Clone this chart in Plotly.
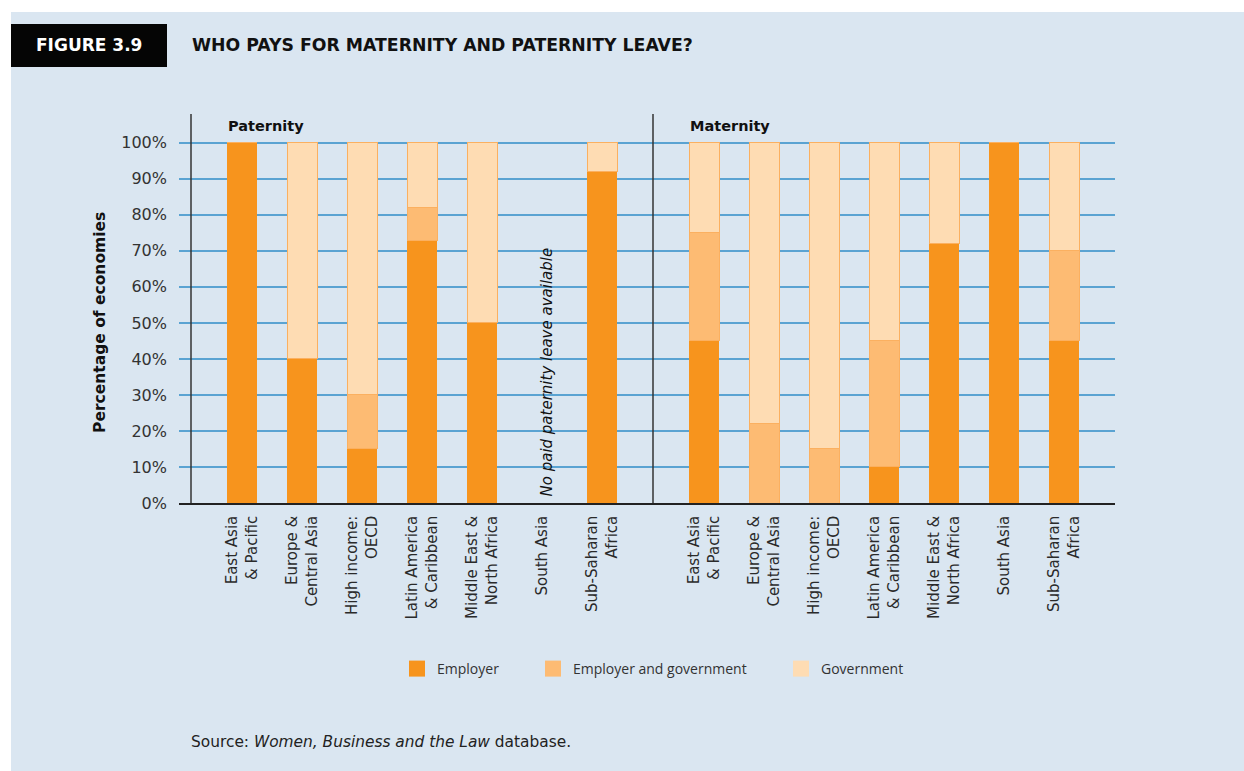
import plotly.graph_objects as go

# ---------------- data ----------------
regions = ["East Asia<br>& Pacific", "Europe &<br>Central Asia", "High income:<br>OECD",
           "Latin America<br>& Caribbean", "Middle East &<br>North Africa", "South Asia",
           "Sub-Saharan<br>Africa"]

pat_employer = [100, 40, 15, 73, 50, 0, 92]
pat_emp_gov = [0, 0, 15, 9, 0, 0, 0]
pat_government = [0, 60, 70, 18, 50, 0, 8]

mat_employer = [45, 0, 0, 10, 72, 100, 45]
mat_emp_gov = [30, 22, 15, 35, 0, 0, 25]
mat_government = [25, 78, 85, 55, 28, 0, 30]

series_names = ["Employer", "Employer and government", "Government"]
series_colors = ["#F7941D", "#FDBB73", "#FEDCB3"]
y_ticks = [0, 10, 20, 30, 40, 50, 60, 70, 80, 90, 100]

# ---------------- layout helpers ----------------
W, H = 1244, 771
ML, MR, MT, MB = 179, 129, 114, 268
PW, PH = W - ML - MR, H - MT - MB
GAP = 0.7  # extra gap between the two panels (in category units)

pat_x = [i for i in range(len(regions))]
mat_x = [i + len(regions) + GAP for i in range(len(regions))]
all_x = pat_x + mat_x
X_RANGE = [-1.05, 14.55]
Y_RANGE = [0, 108]


def px_x(p):  # page pixel -> paper fraction
    return (p - ML) / PW


def px_y(p):
    return (H - MB - p) / PH


def cx(p):  # page pixel -> container fraction
    return p / W


def cy(p):
    return 1 - p / H


fig = go.Figure()

segments = [
    (pat_employer + mat_employer, 0),
    (pat_emp_gov + mat_emp_gov, 1),
    (pat_government + mat_government, 2),
]
for vals, k in segments:
    line_w = 0 if k == 0 else 1
    fig.add_trace(go.Bar(
        x=all_x, y=vals, width=0.5, name=series_names[k],
        marker=dict(color=series_colors[k], line=dict(color="#FBB060", width=line_w)),
        showlegend=False, hoverinfo="skip",
    ))

# legend entries (one legend per item for exact placement)
legend_keys = ["legend", "legend2", "legend3"]
for k in range(3):
    fig.add_trace(go.Scatter(
        x=[None], y=[None], mode="markers", name=series_names[k],
        marker=dict(symbol="square", size=16, color=series_colors[k]),
        legend=legend_keys[k], showlegend=True,
    ))

legend_text_x = [437, 573, 821]
legend_common = dict(orientation="h", xref="container", yref="container",
                     xanchor="left", yanchor="middle", y=cy(669),
                     bgcolor="rgba(0,0,0,0)",
                     font=dict(family="Open Sans", size=14, color="#333333"))
for key, tx in zip(legend_keys, legend_text_x):
    fig.update_layout({key: dict(x=cx(tx - 40), **legend_common)})

fig.update_layout(
    width=W, height=H,
    margin=dict(l=ML, r=MR, t=MT, b=MB),
    paper_bgcolor="white",
    plot_bgcolor="rgba(0,0,0,0)",
    barmode="stack",
    xaxis=dict(
        range=X_RANGE, tickmode="array", tickvals=all_x, ticktext=regions + regions,
        tickangle=-90, showgrid=False, zeroline=False,
        showline=True, linecolor="#222222", linewidth=1.5,
        ticks="", ticklabelstandoff=5,
        tickfont=dict(family="DejaVu Sans", size=15, color="#2a2a2a"),
    ),
    yaxis=dict(
        range=Y_RANGE, tickmode="array", tickvals=y_ticks,
        ticktext=[f"{v}%" for v in y_ticks],
        showgrid=True, gridcolor="#5AA3D2", gridwidth=2, zeroline=False,
        showline=False, ticks="", ticklabelstandoff=11,
        tickfont=dict(family="DejaVu Sans", size=16, color="#333333"),
    ),
)

shapes = [
    # light background panel
    dict(type="rect", xref="paper", yref="paper", x0=px_x(11), x1=px_x(1260),
         y0=px_y(790), y1=px_y(12), fillcolor="#DAE6F1", line=dict(width=0),
         layer="below"),
    # black title box
    dict(type="rect", xref="paper", yref="paper", x0=px_x(11), x1=px_x(167),
         y0=px_y(67), y1=px_y(24), fillcolor="#050505", line=dict(width=0),
         layer="below"),
    # panel divider lines
    dict(type="line", xref="x", yref="y", x0=-0.85, x1=-0.85, y0=0, y1=Y_RANGE[1],
         line=dict(color="#333333", width=1.5)),
    dict(type="line", xref="x", yref="y", x0=(pat_x[-1] + mat_x[0]) / 2,
         x1=(pat_x[-1] + mat_x[0]) / 2, y0=0, y1=Y_RANGE[1],
         line=dict(color="#333333", width=1.5)),
]

annotations = [
    dict(text="<b>FIGURE 3.9</b>", xref="paper", yref="paper", x=px_x(89), y=px_y(45),
         xanchor="center", yanchor="middle", showarrow=False,
         font=dict(family="DejaVu Sans", size=17, color="white")),
    dict(text="<b>WHO PAYS FOR MATERNITY AND PATERNITY LEAVE?</b>", xref="paper",
         yref="paper", x=px_x(190), y=px_y(45), xanchor="left", yanchor="middle",
         showarrow=False, font=dict(family="DejaVu Sans", size=17.3, color="#111111")),
    dict(text="<b>Paternity</b>", xref="x", yref="paper", x=pat_x[0] - 0.27,
         y=px_y(126), xanchor="left", yanchor="middle", showarrow=False,
         font=dict(family="DejaVu Sans", size=14.5, color="#111111")),
    dict(text="<b>Maternity</b>", xref="x", yref="paper", x=mat_x[0] - 0.27,
         y=px_y(126), xanchor="left", yanchor="middle", showarrow=False,
         font=dict(family="DejaVu Sans", size=14.5, color="#111111")),
    dict(text="<i>No paid paternity leave available</i>", xref="x", yref="y",
         x=pat_x[5], y=0, xshift=4, yshift=4, textangle=-90, xanchor="center",
         yanchor="bottom", showarrow=False,
         font=dict(family="DejaVu Sans", size=15, color="#111111")),
    dict(text="<b>Percentage of economies</b>", xref="paper", yref="y",
         x=px_x(100), y=50, textangle=-90, xanchor="center", yanchor="middle",
         showarrow=False, font=dict(family="DejaVu Sans", size=15.5, color="#111111")),
    dict(text="Source: <i>Women, Business and the Law</i> database.", xref="paper",
         yref="paper", x=px_x(189), y=px_y(742), xanchor="left", yanchor="middle",
         showarrow=False, font=dict(family="DejaVu Sans", size=15.4, color="#222222")),
]

fig.update_layout(shapes=shapes, annotations=annotations)

fig.write_html("out.html", config={"displayModeBar": False},
               post_script="document.body.style.margin='0';")
